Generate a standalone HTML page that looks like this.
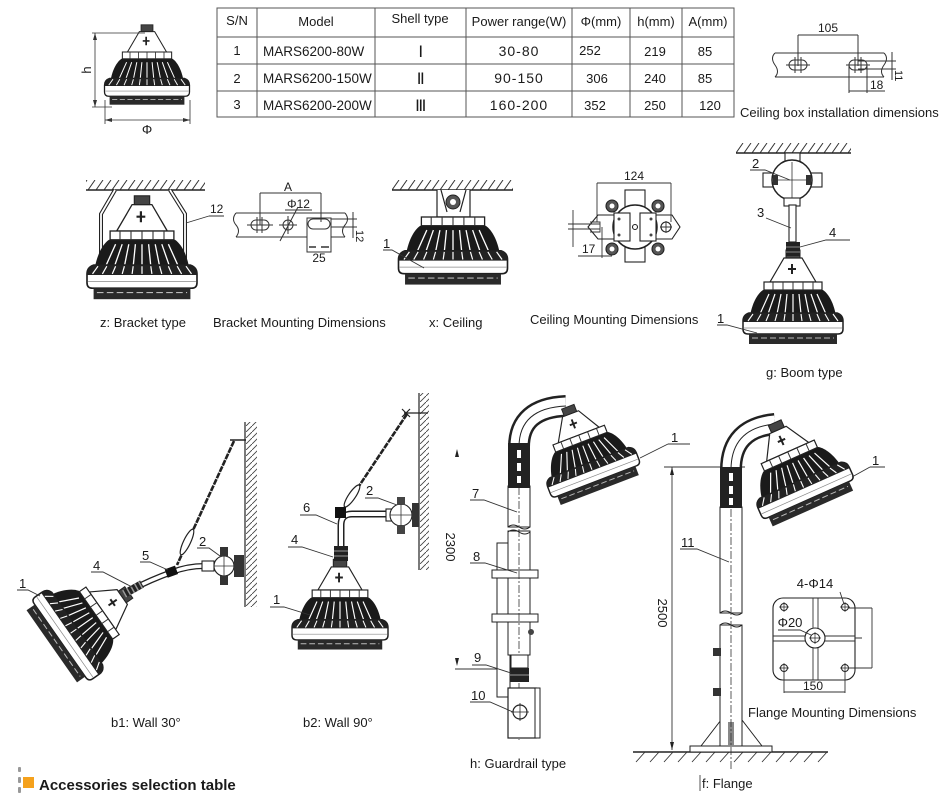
<!DOCTYPE html>
<html><head><meta charset="utf-8"><style>
html,body{margin:0;padding:0;background:#fff;width:940px;height:799px;overflow:hidden}
svg{display:block}
text{font-family:"Liberation Sans",Arial,sans-serif;fill:#1a1a1a}
</style></head><body>
<svg width="940" height="799" viewBox="0 0 940 799" xmlns="http://www.w3.org/2000/svg">
<defs>
<pattern id="hc" patternUnits="userSpaceOnUse" width="8" height="10"><path d="M0,10 L7,0" stroke="#333" stroke-width="1"/></pattern>
<pattern id="hc2" patternUnits="userSpaceOnUse" x="0" y="3" width="8" height="10"><path d="M0,10 L7,0" stroke="#333" stroke-width="1"/></pattern>
<pattern id="hw" patternUnits="userSpaceOnUse" width="6" height="6"><path d="M0,6 L6,0" stroke="#444" stroke-width=".9"/></pattern>
<g id="body">
 <path d="M-43,34 C-41,22 -36,12 -30,8 L30,8 C36,12 41,22 43,34 Z" fill="#1a1a1a"/>
 <path d="M-24,12L-33,32M-18,12L-25,32M-12,12L-16,32M-6,12L-8,32M0,12V32M6,12L8,32M12,12L16,32M18,12L25,32M24,12L33,32" stroke="#fff" stroke-width="1.2"/>
 <rect x="-29" y="0" width="58" height="8" fill="#fff" stroke="#222" stroke-width="1.2"/>
 <path d="M-20,0v8M-10,0v8M0,0v8M10,0v8M20,0v8" stroke="#333" stroke-width="1"/>
 <path d="M-44,31 Q-50,33 -50,39 L-50,47 Q-50,52 -45,52 L45,52 Q50,52 50,47 L50,39 Q50,33 44,31 Z" fill="#fff" stroke="#1e1e1e" stroke-width="1.5"/>
 <path d="M-44,31 Q-50,33 -50,40 L50,40 Q50,33 44,31 Z" fill="#222"/>
 <path d="M-40,32L-45,39M-32,32L-36,39M-24,32L-27,39M-16,32L-18,39M-8,32L-9,39M0,32V39M8,32L9,39M16,32L18,39M24,32L27,39M32,32L36,39M40,32L45,39" stroke="#fff" stroke-width="1.1"/>
 <line x1="-49" y1="46" x2="49" y2="46" stroke="#888" stroke-width=".7"/>
 <rect x="-44" y="52" width="88" height="10" fill="#2a2a2a"/>
 <line x1="-41" y1="56" x2="41" y2="56" stroke="#bbb" stroke-width="1" stroke-dasharray="6 3"/>
</g>
<g id="neck">
 <path d="M-9,-24 L9,-24 L23,0 L-23,0 Z" fill="#fff" stroke="#222" stroke-width="1.2"/>
 <rect x="-7" y="-32" width="14" height="8" fill="#444" stroke="#222"/>
 <path d="M-1,-18 v10 M-5,-13 h8" stroke="#222" stroke-width="2"/>
</g>
<g id="lamp"><use href="#neck"/><use href="#body"/></g>
</defs>

<!-- top-left lamp with dims -->
<use href="#lamp" transform="translate(147,52) scale(0.85)"/>
<path d="M92,33H145 M92,107H112 M95,33V107 M105,100V124 M190,100V124 M105,120H190" stroke="#333" stroke-width=".8" fill="none"/>
<path d="M95,33 L93,40 L97,40Z M95,107 L93,100 L97,100Z M105,120 L112,118 L112,122Z M190,120 L183,118 L183,122Z" fill="#333"/>
<text transform="translate(91,70) rotate(-90)" text-anchor="middle" font-size="13">h</text>
<text x="147" y="134" text-anchor="middle" font-size="13">Φ</text>

<!-- table -->
<g stroke="#555" stroke-width="1" fill="none">
<rect x="217" y="8" width="517" height="109"/>
<path d="M217,37H734 M217,64H734 M217,91H734 M257,8V117 M375,8V117 M466,8V117 M572,8V117 M630,8V117 M682,8V117"/>
</g>
<g font-size="13" text-anchor="middle">
<text x="237" y="25">S/N</text><text x="316" y="26">Model</text><text x="420" y="23">Shell type</text><text x="519" y="26">Power range(W)</text><text x="601" y="26">Φ(mm)</text><text x="656" y="26">h(mm)</text><text x="708" y="26">A(mm)</text>
<text x="237" y="55">1</text><text x="237" y="83">2</text><text x="237" y="109">3</text>
</g>
<g font-size="13.5">
<text x="263" y="56">MARS6200-80W</text><text x="263" y="83">MARS6200-150W</text><text x="263" y="110">MARS6200-200W</text>
</g>
<g font-size="17" text-anchor="middle" letter-spacing="-1.5" style="font-family:'Liberation Serif',serif">
<text x="420" y="57">I</text><text x="420" y="84">II</text><text x="420" y="111">III</text>
</g>
<g font-size="14" text-anchor="middle">
<text x="519" y="56" letter-spacing="1">30-80</text><text x="519" y="83" letter-spacing="1">90-150</text><text x="519" y="110" letter-spacing="1">160-200</text>
</g>
<g font-size="13" text-anchor="middle">
<text x="590" y="55">252</text><text x="597" y="83">306</text><text x="595" y="110">352</text>
<text x="655" y="56">219</text><text x="655" y="83">240</text><text x="655" y="110">250</text>
<text x="705" y="56">85</text><text x="705" y="83">85</text><text x="710" y="110">120</text>
</g>

<!-- ceiling box installation -->
<g stroke="#333" stroke-width="1" fill="none">
<path d="M775,53H884 M775,77H884 M775,53 Q770,58 775,65 Q780,72 775,77 M884,53 Q889,58 884,65 Q879,72 884,77"/>
<rect x="789" y="60" width="18" height="10" rx="5"/>
<rect x="849" y="60" width="18" height="10" rx="5"/>
<path d="M795,57V73 M801,57V73 M855,57V73 M861,57V73 M786,65H810 M846,65H870"/>
<path d="M798,35V66 M858,35V66 M798,35H858 M858,61H896 M858,69H896 M892,52V80 M849,66V93 M867,66V93 M849,91H885"/>
</g>
<text x="828" y="32" text-anchor="middle" font-size="12">105</text>
<text transform="translate(895,70) rotate(90)" font-size="11">11</text>
<text x="870" y="89" font-size="12">18</text>
<text x="740" y="117" font-size="13">Ceiling box installation dimensions</text>

<!-- bracket type -->
<rect x="86" y="180" width="119" height="10" fill="url(#hc)"/>
<line x1="86" y1="190" x2="205" y2="190" stroke="#222" stroke-width="1.5"/>
<path d="M115,190 L101,214 L101,270 M170,190 L185,214 L185,270" stroke="#222" stroke-width="4" fill="none"/>
<path d="M115,190 L101,214 L101,270 M170,190 L185,214 L185,270" stroke="#fff" stroke-width="1.8" fill="none"/>
<use href="#lamp" transform="translate(142,231) scale(1.1)"/>
<text x="210" y="213" font-size="12">12</text>
<path d="M209,216 H224 M209,216 L186,223" stroke="#333" stroke-width=".9" fill="none"/>
<text x="100" y="327" font-size="13">z: Bracket type</text>

<!-- bracket mounting dims -->
<g stroke="#333" stroke-width="1" fill="none">
<path d="M236,213H345 M236,237H345 M236,213 Q231,219 236,225 Q241,231 236,237 M345,213 Q350,219 345,225 Q340,231 345,237"/>
<rect x="251" y="220" width="18" height="10" rx="5"/>
<path d="M257,217V233 M262,217V233 M247,225H273"/>
<circle cx="288" cy="225" r="5"/>
<path d="M288,216V234 M279,225H297 M298,207 L280,241"/>
<rect x="307" y="218" width="24" height="34" fill="#fff"/>
<rect x="308" y="219" width="22" height="10" rx="5"/>
<path d="M309,247h7 M321,247h8" stroke-width="1.5"/>
<path d="M260,193H321 M260,193V225 M321,193V222 M285,210H312"/>
<path d="M331,219H357 M331,227H357 M353,212V238"/>
</g>
<text x="288" y="191" text-anchor="middle" font-size="12">A</text>
<text x="287" y="208" font-size="12">Φ12</text>
<text x="319" y="262" text-anchor="middle" font-size="12">25</text>
<text transform="translate(356,230) rotate(90)" font-size="11">12</text>
<text x="213" y="327" font-size="13">Bracket Mounting Dimensions</text>

<!-- x: ceiling -->
<rect x="392" y="180" width="121" height="10" fill="url(#hc)"/>
<line x1="392" y1="190" x2="513" y2="190" stroke="#222" stroke-width="1.5"/>
<path d="M437,190 L437,217 L470,217 L470,190 M441,190 L447,212 M466,190 L460,212" fill="#fff" stroke="#222" stroke-width="1.2"/>
<circle cx="453" cy="202" r="7" fill="#555" stroke="#222"/>
<circle cx="453" cy="202" r="3" fill="#fff"/>
<use href="#body" transform="translate(453,217) scale(1.09)"/>
<text x="383" y="248" font-size="13">1</text>
<path d="M383,250 H392 L424,268" stroke="#333" stroke-width=".9" fill="none"/>
<text x="429" y="327" font-size="13">x: Ceiling</text>

<!-- ceiling mounting dims -->
<g stroke="#222" stroke-width="1.1" fill="#fff">
<rect x="625" y="190" width="20" height="72"/>
<path d="M588,227 L598,215 L672,215 L680,227 L672,239 L598,239 Z"/>
<circle cx="612" cy="206" r="6" fill="#555"/><circle cx="658" cy="206" r="6" fill="#555"/>
<circle cx="612" cy="249" r="6" fill="#555"/><circle cx="658" cy="249" r="6" fill="#555"/>
<circle cx="635" cy="227" r="22" stroke-width="1.5"/>
<rect x="614" y="213" width="16" height="28"/><rect x="640" y="213" width="16" height="28"/>
<circle cx="666" cy="227" r="5"/>
<circle cx="635" cy="227" r="2.5"/>
</g>
<g fill="#fff"><circle cx="612" cy="206" r="2.5"/><circle cx="658" cy="206" r="2.5"/><circle cx="612" cy="249" r="2.5"/><circle cx="658" cy="249" r="2.5"/></g>
<g fill="#444"><circle cx="619" cy="219" r="1.5"/><circle cx="619" cy="235" r="1.5"/><circle cx="651" cy="219" r="1.5"/><circle cx="651" cy="235" r="1.5"/></g>
<g stroke="#333" stroke-width=".9" fill="none">
<path d="M660,227H672 M666,221V233 M590,222H600V232H590"/>
<path d="M597,183H671 M597,183V222 M671,183V222"/>
<path d="M568,224H600 M568,229H600 M573,210V247 M578,256H612 M602,227V258"/>
</g>
<text x="634" y="180" text-anchor="middle" font-size="12">124</text>
<text x="582" y="253" font-size="12">17</text>
<text x="530" y="324" font-size="13">Ceiling Mounting Dimensions</text>

<!-- boom type -->
<rect x="736" y="143" width="115" height="10" fill="url(#hc2)"/>
<line x1="736" y1="153" x2="851" y2="153" stroke="#222" stroke-width="1.5"/>
<g stroke="#222" stroke-width="1.1" fill="#fff">
<rect x="785" y="153" width="15" height="8"/>
<rect x="763" y="173" width="14" height="14"/><rect x="807" y="173" width="15" height="14"/>
<circle cx="792" cy="180" r="20" stroke-width="1.5"/>
<rect x="784" y="198" width="16" height="8"/>
<rect x="789" y="205" width="7" height="37"/>
</g>
<path d="M772,180H812 M792,162V198" stroke="#333" stroke-width=".8"/>
<rect x="773" y="175" width="5" height="10" fill="#333"/><rect x="806" y="175" width="5" height="10" fill="#333"/>
<use href="#lamp" transform="translate(793,282)"/>
<rect x="786" y="242" width="14" height="14" fill="#222"/>
<path d="M786,247H800 M786,252H800" stroke="#888" stroke-width="1"/>
<g font-size="13">
<text x="752" y="168">2</text><text x="757" y="217">3</text><text x="829" y="237">4</text><text x="717" y="323">1</text>
</g>
<path d="M750,170 H765 L790,180 M766,218 L791,228 M850,240 H826 L800,247 M717,325 H727 L757,333" stroke="#333" stroke-width=".9" fill="none"/>
<text x="766" y="377" font-size="13">g: Boom type</text>

<!-- b1 wall 30 -->
<line x1="245" y1="422" x2="245" y2="607" stroke="#222" stroke-width="1.2"/>
<rect x="246" y="422" width="11" height="185" fill="url(#hw)"/>
<path d="M230,440 H246" stroke="#222" stroke-width="1.5"/>
<path d="M234,441 L177,565" stroke="#222" stroke-width="2.6" stroke-dasharray="6 1"/>
<ellipse cx="187" cy="542" rx="3.5" ry="14" transform="rotate(25.5 187 542)" fill="#fff" stroke="#222" stroke-width="1.2"/>
<path d="M133,589 Q150,580 172,572 Q188,566 204,566" stroke="#222" stroke-width="6" fill="none"/>
<path d="M133,589 Q150,580 172,572 Q188,566 204,566" stroke="#fff" stroke-width="3.5" fill="none"/>
<g stroke="#222" stroke-width="1.1" fill="#fff">
<rect x="202" y="561" width="12" height="10"/>
<circle cx="224" cy="566" r="10"/>
</g>
<rect x="220" y="547" width="8" height="9" fill="#333"/><rect x="220" y="576" width="8" height="9" fill="#333"/><rect x="234" y="555" width="10" height="22" fill="#333"/>
<path d="M214,566H234 M224,556V576" stroke="#333" stroke-width=".8"/>
<rect x="166" y="567" width="11" height="9" fill="#111" transform="rotate(-20 172 572)"/>
<use href="#lamp" transform="translate(78,628) rotate(55) translate(0,-30)"/>
<path d="M124,594 L142,584" stroke="#222" stroke-width="8"/>
<path d="M124,594 L142,584" stroke="#999" stroke-width="8" stroke-dasharray="1.5 3"/>
<g font-size="13">
<text x="19" y="588">1</text><text x="93" y="570">4</text><text x="142" y="560">5</text><text x="199" y="546">2</text>
</g>
<path d="M17,590 H28 L40,596 M91,572 H103 L132,587 M140,562 H150 L168,570 M197,548 H209 L220,556" stroke="#333" stroke-width=".9" fill="none"/>
<text x="111" y="727" font-size="13">b1: Wall 30°</text>

<!-- b2 wall 90 -->
<line x1="419" y1="393" x2="419" y2="570" stroke="#222" stroke-width="1.2"/>
<rect x="420" y="393" width="9" height="177" fill="url(#hw)"/>
<path d="M404,413 H428 M402,409 L410,417 M402,417 L410,409" stroke="#222" stroke-width="1.2"/>
<path d="M407,414 L343,510" stroke="#222" stroke-width="2.6" stroke-dasharray="6 1"/>
<ellipse cx="352" cy="496" rx="3.5" ry="13" transform="rotate(34 352 496)" fill="#fff" stroke="#222" stroke-width="1.2"/>
<path d="M392,514 H352 Q341,514 341,525 V548" stroke="#222" stroke-width="7" fill="none"/>
<path d="M392,514 H352 Q341,514 341,525 V548" stroke="#fff" stroke-width="4" fill="none"/>
<rect x="335" y="507" width="11" height="11" fill="#111"/>
<g stroke="#222" stroke-width="1.1" fill="#fff">
<rect x="386" y="509" width="6" height="12"/>
<circle cx="401" cy="515" r="11"/>
</g>
<rect x="397" y="497" width="8" height="8" fill="#444"/><rect x="397" y="525" width="8" height="9" fill="#444"/><rect x="412" y="503" width="7" height="24" fill="#333"/>
<path d="M390,515H412 M401,504V526" stroke="#333" stroke-width=".8"/>
<use href="#lamp" transform="translate(340,590) scale(0.96)"/>
<rect x="334" y="546" width="14" height="15" fill="#222"/>
<path d="M334,551H348 M334,556H348" stroke="#999" stroke-width="1"/>
<g font-size="13">
<text x="366" y="495">2</text><text x="303" y="512">6</text><text x="291" y="544">4</text><text x="273" y="604">1</text>
</g>
<path d="M365,498 H378 L397,505 M300,515 H316 L337,524 M288,547 H302 L333,557 M270,607 H284 L310,615" stroke="#333" stroke-width=".9" fill="none"/>
<text x="303" y="727" font-size="13">b2: Wall 90°</text>

<!-- 2300 dim -->
<text transform="translate(446,547) rotate(90)" text-anchor="middle" font-size="13">2300</text>
<path d="M457,449 L455,457 L459,457Z M457,666 L455,658 L459,658Z" fill="#222"/>
<path d="M455,669 H511" stroke="#333" stroke-width=".9"/>

<!-- guardrail -->
<rect x="497" y="543" width="13" height="154" fill="#fff" stroke="#222"/>
<rect x="508" y="531" width="22" height="124" fill="#fff" stroke="#222"/>
<rect x="492" y="570" width="46" height="8" fill="#fff" stroke="#222"/>
<rect x="492" y="614" width="46" height="8" fill="#fff" stroke="#222"/>
<rect x="508" y="486" width="22" height="41" fill="#fff" stroke="#222"/>
<path d="M508,527 Q513,523 519,527 Q525,531 530,527 M508,532 Q513,528 519,532 Q525,536 530,532" stroke="#222" fill="none"/>
<path d="M519,445 V740" stroke="#333" stroke-width=".8" stroke-dasharray="8 2 2 2"/>
<path d="M519,447 Q519,408 566,406" stroke="#222" stroke-width="22" fill="none"/>
<path d="M519,447 Q519,408 566,406" stroke="#fff" stroke-width="17" fill="none"/>
<path d="M519,447 Q519,408 566,406" stroke="#222" stroke-width="1" fill="none"/>
<rect x="508" y="443" width="22" height="45" fill="#222"/>
<path d="M519,450V458 M519,463V471 M519,476V483" stroke="#fff" stroke-width="4"/>
<circle cx="531" cy="632" r="3" fill="#444"/>
<use href="#lamp" transform="translate(594,475) rotate(-21) scale(0.95) translate(0,-45)"/>
<rect x="511" y="655" width="17" height="13" fill="#fff" stroke="#222"/>
<rect x="510" y="668" width="19" height="14" fill="#222"/>
<path d="M510,675H529" stroke="#999"/>
<rect x="508" y="688" width="28" height="50" fill="#fff" stroke="#222" stroke-width="1.2"/>
<rect x="535" y="688" width="5" height="50" fill="#fff" stroke="#222"/>
<circle cx="520" cy="712" r="7" fill="#fff" stroke="#222" stroke-width="1.2"/>
<path d="M511,712H529 M520,703V721" stroke="#222" stroke-width=".8"/>
<g font-size="13">
<text x="472" y="498">7</text><text x="473" y="561">8</text><text x="474" y="662">9</text><text x="471" y="700">10</text><text x="671" y="442">1</text>
</g>
<path d="M470,500 H484 L517,512 M470,563 H485 L517,573 M472,665 H486 L511,673 M470,702 H490 L513,712 M668,444 H690 M668,444 L640,458" stroke="#333" stroke-width=".9" fill="none"/>
<text x="470" y="768" font-size="13">h: Guardrail type</text>

<!-- flange -->
<path d="M664,467 H745 M672,467 V750" stroke="#333" stroke-width=".9"/>
<path d="M672,467 L670,475 L674,475Z M672,750 L670,742 L674,742Z" fill="#222"/>
<text transform="translate(658,613) rotate(90)" text-anchor="middle" font-size="13">2500</text>
<line x1="633" y1="752" x2="828" y2="752" stroke="#222" stroke-width="1.5"/>
<path d="M636,762L645,752M650,762L659,752M664,762L673,752M678,762L687,752M692,762L701,752M706,762L715,752M720,762L729,752M734,762L743,752M748,762L757,752M762,762L771,752M776,762L785,752M790,762L799,752M804,762L813,752M818,762L827,752" stroke="#333" stroke-width=".9"/>
<rect x="690" y="746" width="82" height="6" fill="#fff" stroke="#222"/>
<path d="M701,746 L721,720 M762,746 L742,720" stroke="#222" stroke-width="1"/>
<rect x="720" y="625" width="22" height="121" fill="#fff" stroke="#222"/>
<rect x="720" y="507" width="22" height="106" fill="#fff" stroke="#222"/>
<path d="M720,613 Q725,609 731,613 Q737,617 742,613 M720,625 Q725,621 731,625 Q737,629 742,625" stroke="#222" fill="none"/>
<rect x="728" y="722" width="6" height="24" fill="#888"/>
<path d="M731,467 V770" stroke="#333" stroke-width=".8" stroke-dasharray="8 2 2 2"/>
<rect x="713" y="648" width="8" height="8" fill="#333"/><rect x="713" y="688" width="8" height="8" fill="#333"/>
<path d="M731,470 Q731,428 775,424" stroke="#222" stroke-width="22" fill="none"/>
<path d="M731,470 Q731,428 775,424" stroke="#fff" stroke-width="17" fill="none"/>
<path d="M731,470 Q731,428 775,424" stroke="#222" stroke-width="1" fill="none"/>
<rect x="720" y="467" width="22" height="41" fill="#222"/>
<path d="M731,473V481 M731,486V494 M731,498V505" stroke="#fff" stroke-width="4"/>
<use href="#lamp" transform="translate(806,493) rotate(-24) translate(0,-45)"/>
<g font-size="13"><text x="872" y="465">1</text><text x="681" y="547">11</text></g>
<path d="M870,467 H885 M870,467 L852,477 M680,549 H697 L729,562" stroke="#333" stroke-width=".9" fill="none"/>
<path d="M700,775 V791" stroke="#555" stroke-width="1"/>
<text x="702" y="788" font-size="13">f: Flange</text>

<!-- flange mounting dims -->
<rect x="773" y="598" width="82" height="82" rx="10" fill="#fff" stroke="#222" stroke-width="1.1"/>
<path d="M813,598V680 M818,598V680 M773,636H855 M773,641H855" stroke="#333" stroke-width=".9"/>
<circle cx="815" cy="638" r="10" fill="#fff" stroke="#222" stroke-width="1.1"/>
<circle cx="815" cy="638" r="4.5" fill="#fff" stroke="#222"/>
<g fill="#fff" stroke="#222" stroke-width="1"><circle cx="784" cy="607" r="3.5"/><circle cx="845" cy="607" r="3.5"/><circle cx="784" cy="668" r="3.5"/><circle cx="845" cy="668" r="3.5"/></g>
<path d="M779,607h10M784,602v10M840,607h10M845,602v10M779,668h10M784,663v10M840,668h10M845,663v10M809,638h12M815,632v12" stroke="#222" stroke-width=".7"/>
<path d="M840,592 L844,604 M778,630 H800 L811,635 M784,672V693 M845,672V693 M784,692H845 M848,608H872 M848,668H872 M872,608V668 M855,638H862" stroke="#333" stroke-width=".9" fill="none"/>
<text x="815" y="588" text-anchor="middle" font-size="13">4-Φ14</text>
<text x="790" y="627" text-anchor="middle" font-size="13">Φ20</text>
<text x="813" y="690" text-anchor="middle" font-size="12">150</text>
<text x="748" y="717" font-size="13">Flange Mounting Dimensions</text>

<!-- accessories heading -->
<rect x="18" y="767" width="3" height="5" rx="1" fill="#999"/>
<rect x="18" y="777" width="3" height="6" rx="1" fill="#999"/>
<rect x="18" y="787" width="3" height="6" rx="1" fill="#999"/>
<rect x="23" y="777" width="11" height="11" fill="#f5a11c"/>
<text x="39" y="790" font-size="15" font-weight="bold" fill="#111">Accessories selection table</text>
</svg>
</body></html>
